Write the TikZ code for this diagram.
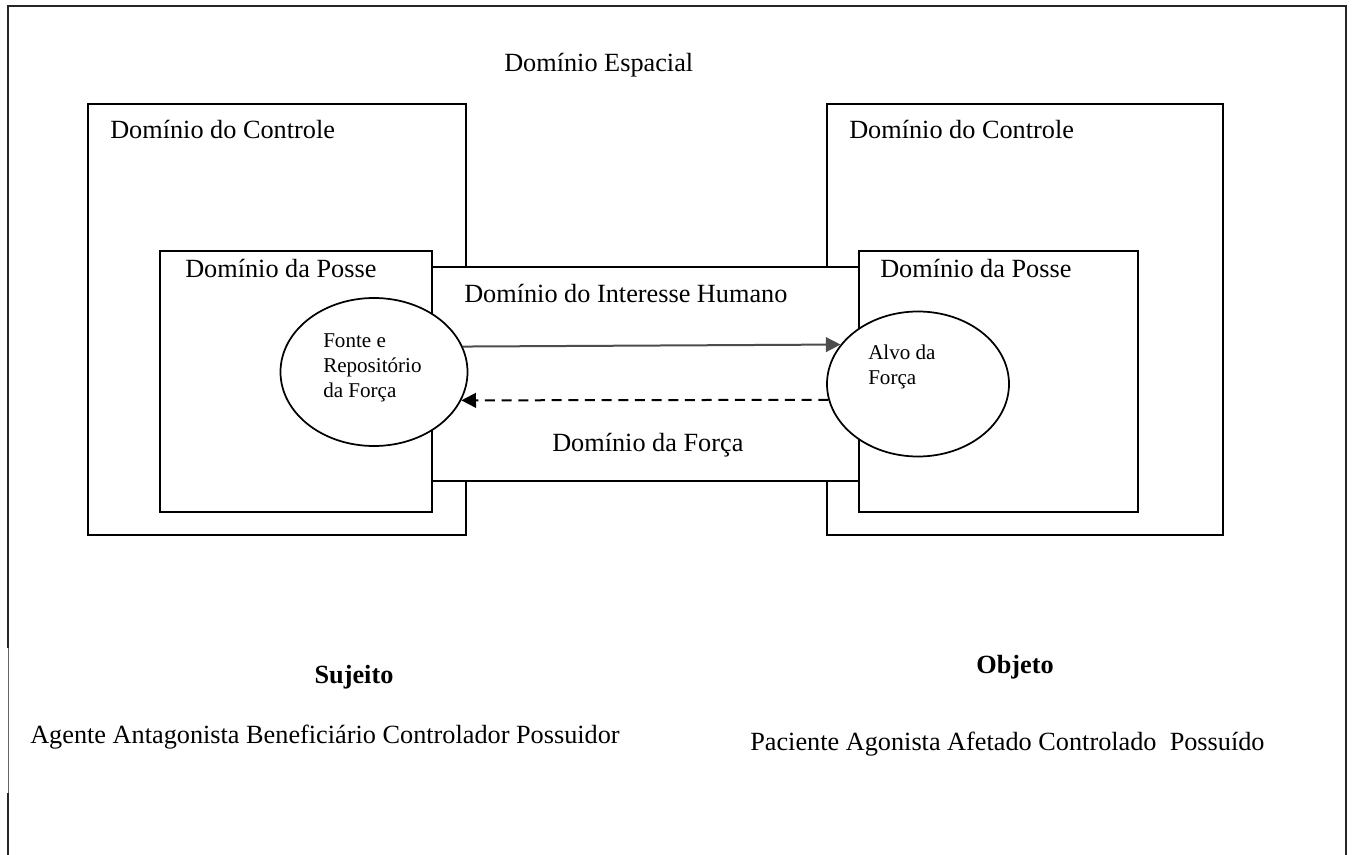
\documentclass[tikz,border=0pt]{standalone}
\usepackage{fontspec}
\setmainfont{Liberation Serif}
\usetikzlibrary{shapes.geometric,arrows.meta}
\definecolor{arrowgray}{HTML}{4D4D4D}
\begin{document}
\begin{tikzpicture}[x=0.75pt,y=-0.75pt,
  frameline/.style={draw=black!85,line width=1.5pt},
  box/.style={draw=black,line width=1.5pt,fill=white},
  ell/.style={ellipse,draw=black,line width=1.3pt,fill=white,inner sep=0pt},
  lbl/.style={font=\fontsize{19.7}{23.6}\selectfont,inner sep=0pt,anchor=base west},
  role/.style={font=\fontsize{19.7}{23.6}\selectfont\bfseries,inner sep=0pt,anchor=base},
  small/.style={font=\fontsize{15.8}{18.75}\selectfont,inner sep=0pt,anchor=base west,align=left},
  tip/.style={-{Triangle[length=11pt,width=11pt]}}]
\useasboundingbox (0,0) rectangle (1353,855);

% outer frame, open at the bottom, broken on the left
\draw[frameline] (8,648) -- (8,6) -- (1346,6) -- (1346,855);
\draw[frameline] (8,793) -- (8,855);
\draw[draw=black!60,line width=0.5pt] (8,648) -- (8,793);

% control domains
\draw[box] (88,104) rectangle (466,535);
\draw[box] (827,104) rectangle (1223,535);

% possession domains
\draw[box] (160,251) rectangle (432,512);
\draw[box] (859,251) rectangle (1138,512);

% human interest / force band
\draw[box] (432,267) rectangle (859,481);

% source and target of the force
\node[ell,minimum width=140.25pt,minimum height=111pt] (src) at (374,372) {};
\node[ell,minimum width=136.5pt,minimum height=108.75pt] (tgt) at (918,384) {};

\draw[line width=1.5pt,draw=arrowgray,fill=arrowgray,tip] (src.16.5) -- (tgt.153.9);
\draw[line width=1.5pt,dash pattern=on 7.5pt off 5pt,tip] (tgt.190.9) -- (src.-18.6);

% labels
\node[lbl] (tspace) at (504,72) {Domínio Espacial};
\node[lbl] (tctrlL) at (110,139) {Domínio do Controle};
\node[lbl] (tctrlR) at (849,139) {Domínio do Controle};
\node[lbl] (tposL) at (185,278) {Domínio da Posse};
\node[lbl] (tposR) at (880,278) {Domínio da Posse};
\node[lbl] (tint) at (464,303) {Domínio do Interesse Humano};
\node[lbl] (tforce) at (552,451) {Domínio da Força};

% multi-line labels sit on the baseline of their last line
\node[small] (tsrc) at (323,398) {Fonte e\\Repositório\\da Força};
\node[small] (ttgt) at (868,385) {Alvo da\\Força};

\node[role] (tsuj) at (354,683) {Sujeito};
\node[role] (tobj) at (1015,673) {Objeto};
\node[lbl] (tsujroles) at (30,743) {Agente Antagonista Beneficiário Controlador Possuidor};
\node[lbl] (tobjroles) at (750,750) {Paciente Agonista Afetado Controlado\ \ Possuído};
\end{tikzpicture}
\end{document}
